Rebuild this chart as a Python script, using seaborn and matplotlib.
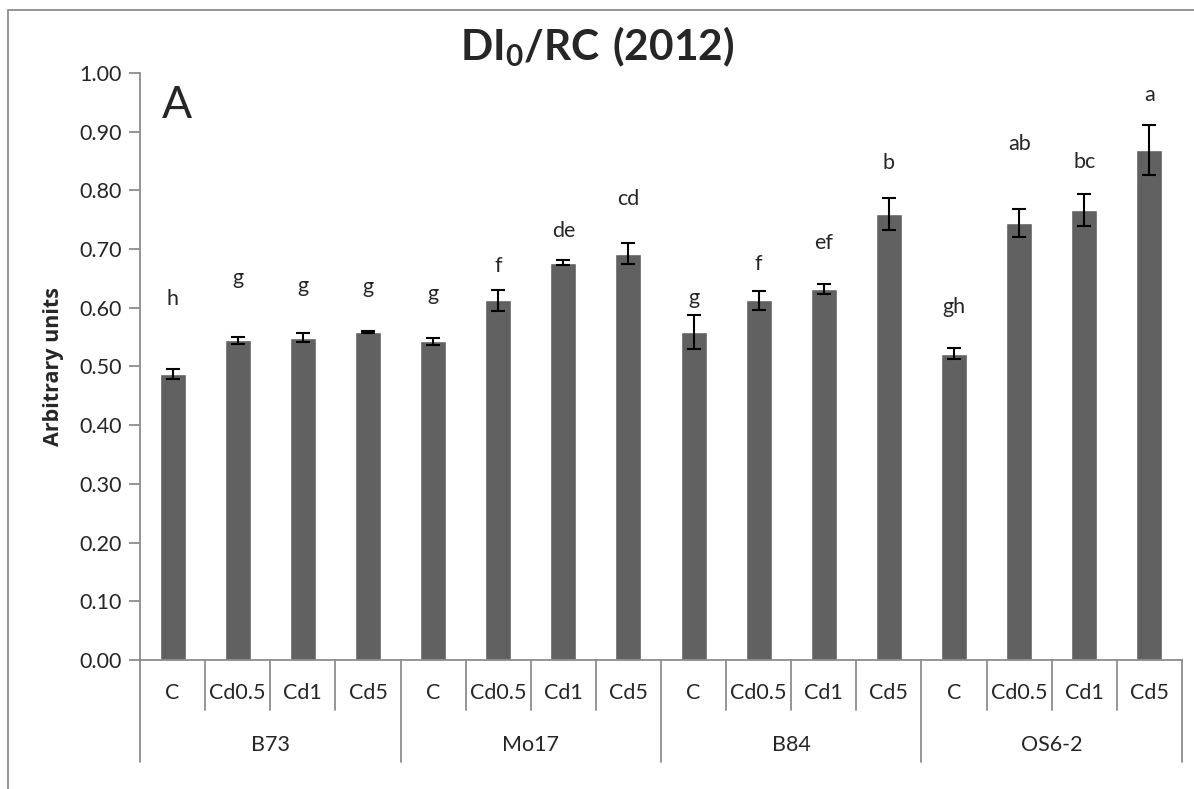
import matplotlib
matplotlib.use("Agg")
import matplotlib.pyplot as plt
import matplotlib.transforms as mtransforms
from matplotlib.patches import Rectangle
import numpy as np
import pandas as pd
import seaborn as sns

# Genotypes and Cd treatments
genotypes = ["B73", "Mo17", "B84", "OS6-2"]
treatments = ["C", "Cd0.5", "Cd1", "Cd5"]

# DI0/RC means and standard errors, per genotype (C, Cd0.5, Cd1, Cd5)
b73_mean = [0.487, 0.545, 0.549, 0.559]
mo17_mean = [0.543, 0.613, 0.677, 0.692]
b84_mean = [0.558, 0.613, 0.632, 0.760]
os62_mean = [0.522, 0.745, 0.766, 0.869]

b73_err = [0.008, 0.006, 0.008, 0.002]
mo17_err = [0.006, 0.018, 0.004, 0.018]
b84_err = [0.029, 0.016, 0.008, 0.027]
os62_err = [0.010, 0.024, 0.027, 0.043]

# Significance letters (Duncan groups)
letters = ["h", "g", "g", "g",
           "g", "f", "de", "cd",
           "g", "f", "ef", "b",
           "gh", "ab", "bc", "a"]

yticks = [0.0, 0.1, 0.2, 0.3, 0.4, 0.5, 0.6, 0.7, 0.8, 0.9, 1.0]

means = b73_mean + mo17_mean + b84_mean + os62_mean
errs = b73_err + mo17_err + b84_err + os62_err
df = pd.DataFrame({
    "genotype": np.repeat(genotypes, len(treatments)),
    "treatment": treatments * len(genotypes),
    "value": means,
    "err": errs,
})
df["key"] = df["genotype"] + "|" + df["treatment"]

sns.set_theme(style="white")
plt.rcParams["font.family"] = ["Lato", "DejaVu Sans"]
plt.rcParams["mathtext.fontset"] = "custom"
plt.rcParams["mathtext.rm"] = "Lato"
plt.rcParams["mathtext.bf"] = "Lato:bold"

fig = plt.figure(figsize=(11.94, 7.89), dpi=100)
ax = fig.add_axes([0.1173, 0.1635, 0.8726, 0.744])

# outer chart frame
fig.patches.append(Rectangle((8 / 1194, -0.05), 1.2, 1 - 10 / 789 + 0.05,
                             transform=fig.transFigure, fill=False,
                             edgecolor="#8c8c8c", linewidth=1.3))

sns.barplot(data=df, x="key", y="value", order=list(df["key"]),
            color="#616161", saturation=1, width=0.4, errorbar=None, ax=ax)
xs = np.arange(len(df))
ax.errorbar(xs, df["value"], yerr=df["err"], fmt="none", ecolor="black",
            elinewidth=1.5, capsize=5, capthick=1.5)

# letter positions above each bar
letter_gap = [0.12, 0.10, 0.08, 0.075,
              0.075, 0.04, 0.05, 0.075,
              0.03, 0.045, 0.07, 0.06,
              0.07, 0.11, 0.055, 0.05]
for x, v, e, lab, g in zip(xs, df["value"], df["err"], letters, letter_gap):
    ax.text(x, v + e + g, lab, ha="center", va="center", fontsize=15.5)

ax.set_ylim(0, 1.0)
ax.set_xlim(-0.5, len(df) - 0.5)
ax.set_yticks(yticks)
ax.set_yticklabels([f"{t:.2f}" for t in yticks], fontsize=15.5)
ax.set_xticks([])
ax.set_xlabel("")
ax.set_ylabel("Arbitrary units", family=["Open Sans", "DejaVu Sans"],
              fontweight="bold", fontsize=15.5, labelpad=11)
ax.tick_params(axis="y", direction="out", length=8, width=1.3,
               color="#8c8c8c", pad=5, left=True)

for s in ["top", "right"]:
    ax.spines[s].set_visible(False)
for s in ["left", "bottom"]:
    ax.spines[s].set_color("#8c8c8c")
    ax.spines[s].set_linewidth(1.3)

# two-level category axis
trans = mtransforms.blended_transform_factory(ax.transData, ax.transAxes)
axh = 0.744 * 789
inner = -50 / axh
outer = -102 / axh
n = len(treatments)
for i in range(len(df) + 1):
    bottom = outer if i % n == 0 else inner
    ax.plot([i - 0.5, i - 0.5], [0, bottom], transform=trans, clip_on=False,
            color="#8c8c8c", linewidth=1.3)
for x, t in zip(xs, df["treatment"]):
    ax.text(x, -33 / axh, t, transform=trans, ha="center", va="center",
            fontsize=15.5)
for j, g in enumerate(genotypes):
    ax.text(j * n + (n - 1) / 2, -85 / axh, g, transform=trans, ha="center",
            va="center", fontsize=15.5)

fig.text(0.5, 1 - 47 / 789, r"$\mathbf{DI_0/RC\ (2012)}$", ha="center",
         va="center", fontsize=30.5)
ax.text(0.035, 0.945, "A", transform=ax.transAxes, fontsize=32,
        ha="center", va="center")

fig.savefig("out.png", dpi=100)
